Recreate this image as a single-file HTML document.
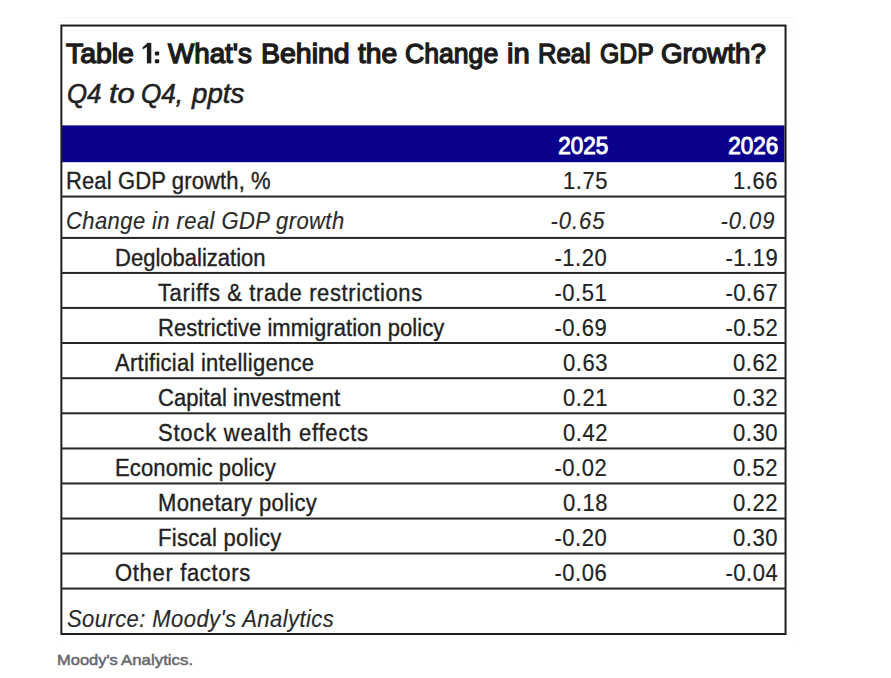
<!DOCTYPE html><html><head><meta charset="utf-8"><title>Table 1</title><style>
html,body{margin:0;padding:0;background:#fff;}
body{width:891px;height:678px;position:relative;overflow:hidden;font-family:"Liberation Sans",sans-serif;}
.t{position:absolute;line-height:0;white-space:nowrap;font-size:22px;color:#222;-webkit-text-stroke:0.35px #222;}
.i{font-style:italic;-webkit-text-stroke:0.15px #2a2a2a;color:#2a2a2a;}
.r{text-align:right;letter-spacing:0.6px;font-size:23px;transform:scaleX(0.957);transform-origin:100% 0;-webkit-text-stroke-width:0.2px;}
svg{position:absolute;left:0;top:0;}
#w{position:absolute;left:0;top:0;width:891px;height:678px;}
</style></head><body><div id="w">
<svg width="891" height="678" viewBox="0 0 891 678"><rect x="57" y="17" width="737" height="1" fill="#f5f5f5"/><rect x="57" y="21" width="736" height="1" fill="#fafafa"/><rect x="57" y="17" width="1" height="625" fill="#fbfbfb"/><rect x="793" y="17" width="1" height="625" fill="#fbfbfb"/><rect x="62" y="125.4" width="722.5" height="36.8" fill="#0a008e"/><rect x="61.37" y="25.55" width="724.18" height="608.45" fill="none" stroke="#1e1e1e" stroke-width="2"/><rect x="61" y="195.55" width="724.5" height="2" fill="#262626"/><rect x="61" y="236.93" width="724.5" height="2" fill="#262626"/><rect x="61" y="271.93" width="724.5" height="2" fill="#262626"/><rect x="61" y="306.93" width="724.5" height="2" fill="#262626"/><rect x="61" y="342.00" width="724.5" height="2" fill="#262626"/><rect x="61" y="377.20" width="724.5" height="2" fill="#262626"/><rect x="61" y="412.30" width="724.5" height="2" fill="#262626"/><rect x="61" y="447.46" width="724.5" height="2" fill="#262626"/><rect x="61" y="482.46" width="724.5" height="2" fill="#262626"/><rect x="61" y="517.55" width="724.5" height="2" fill="#262626"/><rect x="61" y="552.50" width="724.5" height="2" fill="#262626"/><rect x="61" y="587.55" width="724.5" height="2" fill="#262626"/><rect x="146.9" y="42.9" width="4.4" height="20.5" fill="#1c1c1c"/><polygon points="147.4,43.2 142.6,47.3 142.6,49.4 147.4,46.8" fill="#1c1c1c"/><rect x="154.9" y="51.4" width="4.3" height="4.0" rx="1" fill="#1c1c1c"/><rect x="154.9" y="59.2" width="4.3" height="4.1" rx="1" fill="#1c1c1c"/></svg>
<div class="t" style="left:66.2px;top:54px;font-size:28px;-webkit-text-stroke:1.4px #1c1c1c;transform:scaleX(1.0134);transform-origin:0 0;color:#1c1c1c">Table</div>
<div class="t" style="left:168.29px;top:54px;font-size:28px;-webkit-text-stroke:1.4px #1c1c1c;transform:scaleX(0.9919);transform-origin:0 0;color:#1c1c1c">What&#39;s</div>
<div class="t" style="left:261.18px;top:54px;font-size:28px;-webkit-text-stroke:1.4px #1c1c1c;transform:scaleX(1.0176);transform-origin:0 0;color:#1c1c1c">Behind</div>
<div class="t" style="left:357.6px;top:54px;font-size:28px;-webkit-text-stroke:1.4px #1c1c1c;transform:scaleX(1.0103);transform-origin:0 0;color:#1c1c1c">the</div>
<div class="t" style="left:405.05px;top:54px;font-size:28px;-webkit-text-stroke:1.4px #1c1c1c;transform:scaleX(0.9505);transform-origin:0 0;color:#1c1c1c">Change</div>
<div class="t" style="left:506.66px;top:54px;font-size:28px;-webkit-text-stroke:1.4px #1c1c1c;transform:scaleX(1.04);transform-origin:0 0;color:#1c1c1c">in</div>
<div class="t" style="left:538.19px;top:54px;font-size:28px;-webkit-text-stroke:1.4px #1c1c1c;transform:scaleX(0.9143);transform-origin:0 0;color:#1c1c1c">Real</div>
<div class="t" style="left:600.12px;top:54px;font-size:28px;-webkit-text-stroke:1.4px #1c1c1c;transform:scaleX(0.8847);transform-origin:0 0;color:#1c1c1c">GDP</div>
<div class="t" style="left:661.21px;top:54px;font-size:28px;-webkit-text-stroke:1.4px #1c1c1c;transform:scaleX(0.9914);transform-origin:0 0;color:#1c1c1c">Growth?</div>
<div class="t i" style="left:67.24px;top:93.6px;font-size:27px;-webkit-text-stroke:0.55px #222;transform:scaleX(0.9559);transform-origin:0 0;color:#222">Q4</div>
<div class="t i" style="left:108.55px;top:93.6px;font-size:27px;-webkit-text-stroke:0.55px #222;transform:scaleX(1.1476);transform-origin:0 0;color:#222">to</div>
<div class="t i" style="left:141.23px;top:93.6px;font-size:27px;-webkit-text-stroke:0.55px #222;transform:scaleX(0.9675);transform-origin:0 0;color:#222">Q4,</div>
<div class="t i" style="left:192.03px;top:93.6px;font-size:27px;-webkit-text-stroke:0.55px #222;transform:scaleX(1.025);transform-origin:0 0;color:#222">ppts</div>
<div class="t r" style="right:283.20000000000005px;top:146.3px;font-weight:normal;color:#fff;-webkit-text-stroke:1px #fff;font-size:23.5px;letter-spacing:0;transform:scaleX(0.955);transform-origin:100% 0">2025</div>
<div class="t r" style="right:112.70000000000005px;top:146.3px;font-weight:normal;color:#fff;-webkit-text-stroke:1px #fff;font-size:23.5px;letter-spacing:0;transform:scaleX(0.955);transform-origin:100% 0">2026</div>
<div class="t" style="left:66.3px;top:181.2px;letter-spacing:0.123px;font-size:23px;transform:scaleX(0.957);transform-origin:0 0">Real GDP growth, %</div>
<div class="t r" style="right:283.2px;top:181.2px">1.75</div>
<div class="t r" style="right:112.7px;top:181.2px">1.66</div>
<div class="t i" style="left:66.3px;top:220.5px;letter-spacing:0.426px;font-size:23px;transform:scaleX(0.957);transform-origin:0 0">Change in real GDP growth</div>
<div class="t i r" style="right:285.7px;top:220.5px;letter-spacing:1.0px">-0.65</div>
<div class="t i r" style="right:115.2px;top:220.5px;letter-spacing:1.0px">-0.09</div>
<div class="t" style="left:115.0px;top:257.6px;letter-spacing:0.000px;font-size:23px;transform:scaleX(0.957);transform-origin:0 0">Deglobalization</div>
<div class="t r" style="right:283.2px;top:257.6px">-1.20</div>
<div class="t r" style="right:112.7px;top:257.6px">-1.19</div>
<div class="t" style="left:158.2px;top:292.6px;letter-spacing:0.631px;font-size:23px;transform:scaleX(0.957);transform-origin:0 0">Tariffs &amp; trade restrictions</div>
<div class="t r" style="right:283.2px;top:292.6px">-0.51</div>
<div class="t r" style="right:112.7px;top:292.6px">-0.67</div>
<div class="t" style="left:158.2px;top:327.6px;letter-spacing:0.047px;font-size:23px;transform:scaleX(0.957);transform-origin:0 0">Restrictive immigration policy</div>
<div class="t r" style="right:283.2px;top:327.6px">-0.69</div>
<div class="t r" style="right:112.7px;top:327.6px">-0.52</div>
<div class="t" style="left:115.0px;top:362.6px;letter-spacing:0.266px;font-size:23px;transform:scaleX(0.957);transform-origin:0 0">Artificial intelligence</div>
<div class="t r" style="right:283.2px;top:362.6px">0.63</div>
<div class="t r" style="right:112.7px;top:362.6px">0.62</div>
<div class="t" style="left:158.2px;top:397.6px;letter-spacing:0.062px;font-size:23px;transform:scaleX(0.957);transform-origin:0 0">Capital investment</div>
<div class="t r" style="right:283.2px;top:397.6px">0.21</div>
<div class="t r" style="right:112.7px;top:397.6px">0.32</div>
<div class="t" style="left:158.2px;top:432.6px;letter-spacing:0.809px;font-size:23px;transform:scaleX(0.957);transform-origin:0 0">Stock wealth effects</div>
<div class="t r" style="right:283.2px;top:432.6px">0.42</div>
<div class="t r" style="right:112.7px;top:432.6px">0.30</div>
<div class="t" style="left:115.0px;top:467.6px;letter-spacing:0.126px;font-size:23px;transform:scaleX(0.957);transform-origin:0 0">Economic policy</div>
<div class="t r" style="right:283.2px;top:467.6px">-0.02</div>
<div class="t r" style="right:112.7px;top:467.6px">0.52</div>
<div class="t" style="left:158.2px;top:502.6px;letter-spacing:0.351px;font-size:23px;transform:scaleX(0.957);transform-origin:0 0">Monetary policy</div>
<div class="t r" style="right:283.2px;top:502.6px">0.18</div>
<div class="t r" style="right:112.7px;top:502.6px">0.22</div>
<div class="t" style="left:158.2px;top:537.6px;letter-spacing:0.296px;font-size:23px;transform:scaleX(0.957);transform-origin:0 0">Fiscal policy</div>
<div class="t r" style="right:283.2px;top:537.6px">-0.20</div>
<div class="t r" style="right:112.7px;top:537.6px">0.30</div>
<div class="t" style="left:115.0px;top:572.6px;letter-spacing:0.697px;font-size:23px;transform:scaleX(0.957);transform-origin:0 0">Other factors</div>
<div class="t r" style="right:283.2px;top:572.6px">-0.06</div>
<div class="t r" style="right:112.7px;top:572.6px">-0.04</div>
<div class="t i" style="left:66.5px;top:619.4px;letter-spacing:0.439px;font-size:23px;transform:scaleX(0.957);transform-origin:0 0">Source: Moody&#39;s Analytics</div>
<div class="t" style="left:56.74px;top:659.6px;font-size:15.5px;color:#66666e;-webkit-text-stroke:0.5px #66666e;transform:scaleX(1.0625);transform-origin:0 0">Moody&#39;s</div>
<div class="t" style="left:120.9px;top:659.6px;font-size:15.5px;color:#66666e;-webkit-text-stroke:0.5px #66666e;transform:scaleX(1.0877);transform-origin:0 0">Analytics.</div>
</div></body></html>
